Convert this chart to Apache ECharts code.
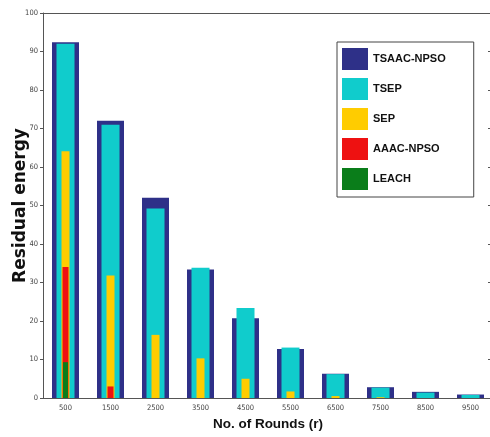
<!DOCTYPE html>
<html>
<head>
<meta charset="utf-8">
<script src="https://cdn.jsdelivr.net/npm/echarts@6/dist/echarts.min.js"></script>
<style>
html,body{margin:0;padding:0;background:#fff;}
#chart{width:490px;height:437px;}
</style>
</head>
<body>
<div id="chart"></div>
<script>
var categories = ['500','1500','2500','3500','4500','5500','6500','7500','8500','9500'];
var tsaacNpso = [92.4, 72.0, 52.0, 33.4, 20.7, 12.7, 6.3, 2.8, 1.6, 0.9];
var tsep      = [92.0, 71.0, 49.2, 33.8, 23.4, 13.1, 6.2, 2.7, 1.4, 0.8];
var sep       = [64.1, 31.8, 16.4, 10.3, 5.0, 1.7, 0.5, 0.2, 0, 0];
var aaacNpso  = [34.0, 3.0, 0, 0, 0, 0, 0, 0, 0, 0];
var leach     = [9.3, 0, 0, 0, 0, 0, 0, 0, 0, 0];
var seriesNames = ['TSAAC-NPSO','TSEP','SEP','AAAC-NPSO','LEACH'];
var seriesData = [tsaacNpso, tsep, sep, aaacNpso, leach];
var colors = ['#2e3088','#10cccc','#ffcc00','#ee1111','#0a7d1a'];
var widths = [27, 18, 8, 6, 5];

var axisColor = '#555';
var tickFont = {fontFamily:'DejaVu Sans Condensed', fontSize:7.5, color:'#444'};

var xAxes = [];
for (var i = 0; i < 5; i++) {
  if (i === 0) {
    xAxes.push({
      type:'category', data:categories, position:'bottom',
      axisLine:{lineStyle:{color:axisColor,width:1}},
      axisTick:{alignWithLabel:true, inside:true, length:7, lineStyle:{color:axisColor}},
      axisLabel:Object.assign({margin:6}, tickFont),
      name:'No. of Rounds (r)', nameLocation:'middle', nameGap:19, nameMoveOverlap:false,
      nameTextStyle:{fontFamily:'Liberation Sans', fontWeight:'bold', fontSize:13.5, color:'#111', verticalAlign:'top'}
    });
  } else {
    xAxes.push({type:'category', data:categories, show:false});
  }
}
xAxes.push({
  type:'category', data:categories, position:'top',
  axisLine:{lineStyle:{color:axisColor,width:1}},
  axisTick:{alignWithLabel:true, inside:true, length:8, lineStyle:{color:axisColor}},
  axisLabel:{show:false}
});

var series = [];
for (var j = 0; j < 5; j++) {
  series.push({
    name:seriesNames[j], type:'bar', xAxisIndex:j, data:seriesData[j],
    barWidth:widths[j], itemStyle:{color:colors[j]}, z:2+j, animation:false
  });
}

var chart = echarts.init(document.getElementById('chart'));
chart.setOption({
  backgroundColor:'#fff',
  animation:false,
  grid:{left:43, right:-3, top:13, bottom:39, containLabel:false, outerBoundsMode:'none'},
  legend:{
    orient:'vertical', left:337, top:42,
    padding:[6,28,7,5], itemGap:8, itemWidth:26, itemHeight:22,
    borderColor:'#444', borderWidth:1, backgroundColor:'#fff',
    icon:'rect',
    textStyle:{fontFamily:'Liberation Sans', fontWeight:'bold', fontSize:11, color:'#111'},
    data:seriesNames
  },
  xAxis:xAxes,
  yAxis:[{
    type:'value', min:0, max:100, interval:10, position:'left',
    axisLine:{show:true, lineStyle:{color:axisColor}},
    axisTick:{show:true, inside:false, length:3, lineStyle:{color:axisColor}},
    splitLine:{show:false},
    axisLabel:Object.assign({margin:5}, tickFont),
    name:'Residual energy', nameLocation:'middle', nameGap:14, nameRotate:90, nameMoveOverlap:false,
    nameTextStyle:{fontFamily:'DejaVu Sans', fontWeight:'bold', fontSize:17, color:'#111'}
  },{
    type:'value', min:0, max:100, interval:10, position:'right',
    axisLine:{show:true, lineStyle:{color:axisColor}},
    axisTick:{show:true, inside:true, length:5, lineStyle:{color:axisColor}},
    splitLine:{show:false}, axisLabel:{show:false}
  }],
  series:series
});
</script>
</body>
</html>
